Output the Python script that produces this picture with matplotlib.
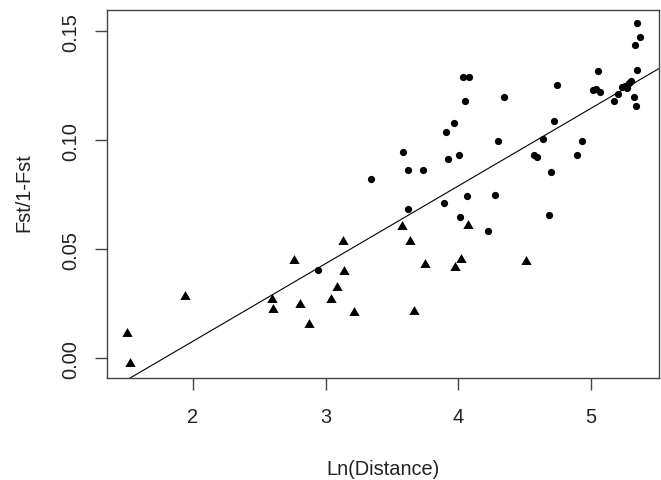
import numpy as np
import matplotlib
matplotlib.use('Agg')
import matplotlib.pyplot as plt

# group 1 (filled circles)
circ_x = [3.343, 2.947, 5.350, 5.371, 5.328, 5.350, 5.049, 4.032, 4.083, 4.740,
          5.017, 5.040, 5.069, 5.259, 5.283, 5.301, 5.271, 5.236, 5.200, 5.175,
          5.320, 5.340, 4.054, 4.341, 4.718, 3.967, 3.909, 4.638, 4.303, 4.934,
          3.587, 3.926, 4.005, 4.572, 4.592, 4.896, 3.618, 3.733, 4.701, 4.062,
          4.273, 3.618, 3.894, 4.011, 4.222, 4.683]
circ_y = [0.0822, 0.0406, 0.1537, 0.1475, 0.1439, 0.1321, 0.1317, 0.1292, 0.1292, 0.1254,
          0.1229, 0.1235, 0.1223, 0.1251, 0.1263, 0.1273, 0.1240, 0.1245, 0.1212, 0.1179,
          0.1200, 0.1156, 0.1179, 0.1197, 0.1087, 0.1081, 0.1038, 0.1007, 0.0995, 0.0995,
          0.0946, 0.0916, 0.0934, 0.0934, 0.0922, 0.0934, 0.0865, 0.0865, 0.0853, 0.0743,
          0.0749, 0.0686, 0.0711, 0.0650, 0.0583, 0.0656]

# group 2 (filled triangles)
tri_x = [1.507, 1.528, 1.940, 2.600, 2.605, 2.766, 2.809, 2.879, 3.044, 3.085,
         3.135, 3.137, 3.212, 3.577, 3.640, 4.075, 3.753, 4.018, 3.972, 4.512, 3.665]
tri_y = [0.0119, -0.0016, 0.0290, 0.0278, 0.0229, 0.0457, 0.0254, 0.0162, 0.0278, 0.0330,
         0.0544, 0.0406, 0.0217, 0.0613, 0.0544, 0.0617, 0.0439, 0.0461, 0.0425, 0.0451, 0.0223]

# regression line
intercept = -0.0635
slope = 0.03564

x_ticks = [2, 3, 4, 5]
y_ticks = [0.00, 0.05, 0.10, 0.15]

plt.rcParams['font.family'] = ['Liberation Sans', 'DejaVu Sans']
W, H = 661, 481
fig = plt.figure(figsize=(W / 100, H / 100), dpi=100)
ax = fig.add_axes([107 / W, 1 - 379 / H, 552 / W, 368 / H])

tri = [(0, 0.866), (1, -0.866), (-1, -0.866), (0, 0.866)]
ax.plot(circ_x, circ_y, 'o', color='black', ms=5.2, mew=0, ls='none')
ax.plot(tri_x, tri_y, marker=tri, color='black', ms=7.4, mew=0, ls='none')
ax.axline((0, intercept), slope=slope, color='black', lw=0.8)

ax.set_xlim(1.354, 5.512)
ax.set_ylim(-0.00904, 0.1598)
ax.set_xticks(x_ticks)
ax.set_xticklabels([str(v) for v in x_ticks])
ax.set_yticks(y_ticks)
ax.set_yticklabels(['%.2f' % v for v in y_ticks], rotation=90, va='center')

for s in ax.spines.values():
    s.set_color('#444444')
    s.set_linewidth(1)
ax.tick_params(length=8.6, width=1, color='#444444', labelsize=14.4,
               labelcolor='#222222')
ax.tick_params(axis='x', pad=12)
ax.tick_params(axis='y', pad=11)

fig.text(383 / W, 1 - 470 / H, 'Ln(Distance)', ha='center', va='center',
         fontsize=14.4, color='#222222')
fig.text(23.5 / W, 1 - 193 / H, 'Fst/1-Fst', ha='center', va='center',
         rotation=90, fontsize=14.4, color='#222222')

fig.savefig('out.png', dpi=100)
